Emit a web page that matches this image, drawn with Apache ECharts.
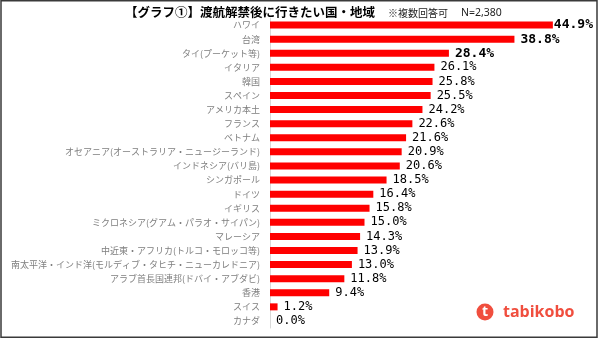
<!DOCTYPE html>
<html>
<head>
<meta charset="utf-8">
<script src="https://cdn.jsdelivr.net/npm/echarts@6/dist/echarts.min.js"></script>
<style>
html,body{margin:0;padding:0;background:#fff;}
#c{width:600px;height:340px;}
</style>
</head>
<body>
<div id="c"></div>
<script>
var titleText = '【グラフ①】渡航解禁後に行きたい国・地域';
var noteText = '※複数回答可';
var nText = 'N=2,380';
var logoText = 'tabikobo';

var categories = [
  'ハワイ', '台湾', 'タイ(プーケット等)', 'イタリア', '韓国', 'スペイン', 'アメリカ本土',
  'フランス', 'ベトナム', 'オセアニア(オーストラリア・ニュージーランド)', 'インドネシア(バリ島)',
  'シンガポール', 'ドイツ', 'イギリス', 'ミクロネシア(グアム・パラオ・サイパン)', 'マレーシア',
  '中近東・アフリカ(トルコ・モロッコ等)', '南太平洋・インド洋(モルディブ・タヒチ・ニューカレドニア)',
  'アラブ首長国連邦(ドバイ・アブダビ)', '香港', 'スイス', 'カナダ'
];
var values = [44.9, 38.8, 28.4, 26.1, 25.8, 25.5, 24.2, 22.6, 21.6, 20.9, 20.6,
  18.5, 16.4, 15.8, 15.0, 14.3, 13.9, 13.0, 11.8, 9.4, 1.2, 0.0];
var xMin = 0, xMax = 50;

var data = values.map(function (v, i) {
  var item = { value: v };
  if (i < 3) {
    item.label = { fontWeight: 'bold', fontSize: 13, distance: i === 0 ? 1 : 6 };
  }
  return item;
});

var chart = echarts.init(document.getElementById('c'), null, { renderer: 'canvas' });
chart.setOption({
  animation: false,
  backgroundColor: '#ffffff',
  grid: { left: 270, top: 18, width: 315, bottom: 12, containLabel: false },
  xAxis: { type: 'value', min: xMin, max: xMax, show: false },
  yAxis: {
    type: 'category',
    data: categories,
    inverse: true,
    axisLine: { show: true, lineStyle: { color: '#d9d9d9', width: 1 } },
    axisTick: { show: false },
    axisLabel: { color: '#7f7f7f', fontSize: 9, margin: 10, fontFamily: 'Noto Sans CJK JP' }
  },
  series: [{
    type: 'bar',
    data: data,
    barWidth: 7,
    itemStyle: { color: '#ff0000' },
    label: {
      show: true,
      position: 'right',
      distance: 6,
      color: '#000',
      fontSize: 12,
      fontFamily: 'DejaVu Sans Mono',
      formatter: function (p) { return p.value.toFixed(1) + '%'; }
    }
  }],
  graphic: [
    { type: 'rect', shape: { x: 1, y: 0.75, width: 596, height: 336.5 },
      style: { fill: 'none', stroke: '#3a3a3a', lineWidth: 1.5 }, z: 100 },
    { type: 'text', x: 125, y: 12,
      style: { text: titleText, fontSize: 12.5, fontWeight: 'bold', fill: '#000',
        fontFamily: 'Noto Sans CJK JP', textVerticalAlign: 'middle' } },
    { type: 'text', x: 388, y: 13,
      style: { text: noteText, fontSize: 10, fill: '#222',
        fontFamily: 'Noto Sans CJK JP', textVerticalAlign: 'middle' } },
    { type: 'text', x: 461, y: 13,
      style: { text: nText, fontSize: 10.5, fill: '#222',
        fontFamily: 'Noto Sans', textVerticalAlign: 'middle' } },
    { type: 'circle', shape: { cx: 485, cy: 312, r: 8.5 }, style: { fill: '#f04e3e' } },
    { type: 'text', x: 485, y: 312.5,
      style: { text: 't', fontSize: 14, fontWeight: 'bold', fill: '#fff',
        fontFamily: 'Open Sans', textAlign: 'center', textVerticalAlign: 'middle' } },
    { type: 'text', x: 503, y: 312,
      style: { text: logoText, fontSize: 16, fontWeight: 'bold', fill: '#f04e3e',
        fontFamily: 'Open Sans', textVerticalAlign: 'middle' } }
  ]
});
</script>
</body>
</html>
